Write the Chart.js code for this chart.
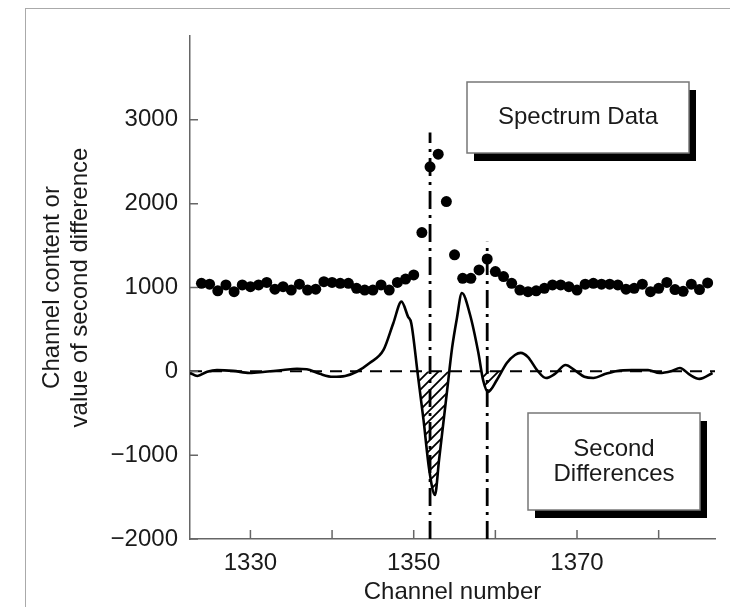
<!DOCTYPE html>
<html lang="en">
<head>
<meta charset="UTF-8">
<title>Spectrum data and second differences</title>
<script src="https://cdn.jsdelivr.net/npm/chart.js"></script>
<style>
  body { margin: 0; background: #fff; }
  #wrap { position: relative; width: 730px; height: 607px; }
  #frame { position: absolute; left: 25px; top: 8px; right: 0; bottom: 0;
           border-left: 1px solid #aaa; border-top: 1px solid #aaa; pointer-events: none; }
</style>
</head>
<body>
<div id="wrap">
  <canvas id="peakChart" width="730" height="607"></canvas>
  <div id="frame"></div>
</div>
<script>
// spectrum data, one count per channel
const channels = [1324, 1325, 1326, 1327, 1328, 1329, 1330, 1331, 1332, 1333, 1334, 1335, 1336, 1337,
  1338, 1339, 1340, 1341, 1342, 1343, 1344, 1345, 1346, 1347, 1348, 1349, 1350, 1351, 1352, 1353,
  1354, 1355, 1356, 1357, 1358, 1359, 1360, 1361, 1362, 1363, 1364, 1365, 1366, 1367, 1368, 1369,
  1370, 1371, 1372, 1373, 1374, 1375, 1376, 1377, 1378, 1379, 1380, 1381, 1382, 1383, 1384, 1385, 1386];
const counts = [1050, 1040, 960, 1030, 950, 1030, 1010, 1030, 1060, 980, 1010, 970, 1040, 970,
  980, 1070, 1060, 1050, 1050, 990, 970, 970, 1030, 970, 1060, 1100, 1150, 1655, 2440, 2590,
  2025, 1390, 1110, 1110, 1210, 1340, 1190, 1130, 1050, 970, 950, 960, 990, 1030, 1030, 1010,
  970, 1040, 1050, 1040, 1040, 1030, 980, 990, 1040, 950, 990, 1060, 975, 955, 1040, 975, 1055];

// second differences
const diffChannels = [1322.6, 1323.5, 1324.7, 1325.9, 1327.9, 1329.9, 1331.8, 1334.0, 1335.7, 1336.9,
  1338.5, 1340.1, 1341.6, 1343.0, 1344.6, 1346.3, 1347.5, 1348.5, 1349.3, 1349.7, 1350.5, 1351.2,
  1351.9, 1352.6, 1353.1, 1354.1, 1354.7, 1355.3, 1355.9, 1356.9, 1357.9, 1358.5, 1359.1, 1360.2,
  1361.4, 1362.4, 1363.1, 1364.0, 1365.1, 1366.2, 1367.3, 1368.6, 1369.7, 1370.9, 1372.0, 1373.5,
  1374.9, 1376.7, 1378.7, 1380.1, 1381.6, 1382.6, 1383.8, 1385.0, 1386.6];
const diffValues = [-20, -55, -5, 15, 5, -20, -5, 15, 30, 25,
  -30, -65, -55, -5, 100, 255, 574, 832, 653, 574, -40, -580,
  -1175, -1475, -1060, -220, 280, 640, 935, 675, 230, -105, -245, -100,
  100, 195, 220, 170, 15, -80, -30, 75, 15, -65, -80, -30,
  5, 15, 15, -20, 5, 40, -40, -90, -20];

// hatched negative lobes (channel ranges)
const hatchRanges = [[1349.7, 1354.7], [1357.9, 1361.4]];

// dash-dot markers at the peak channels
const markerChannels = [1352, 1359];
const markerTops = [2850, 1545];

const xMin = 1322.6, xMax = 1386.9;
const yMin = -2000, yMax = 4000;
const xTicks = [1330, 1340, 1350, 1360, 1370, 1380];
const xTickLabels = [1330, 1350, 1370];
const yTicks = [-2000, -1000, 0, 1000, 2000, 3000];

Chart.defaults.font.family = '"Liberation Sans", Arial, Helvetica, sans-serif';
Chart.defaults.font.size = 24;
Chart.defaults.color = '#1a1a1a';

// diagonal hatch pattern
const pc = document.createElement('canvas');
pc.width = 10; pc.height = 10;
const pctx = pc.getContext('2d');
pctx.strokeStyle = '#000';
pctx.lineWidth = 1.8;
pctx.beginPath();
pctx.moveTo(-2, 12); pctx.lineTo(12, -2);
pctx.moveTo(-2, 2); pctx.lineTo(2, -2);
pctx.moveTo(8, 12); pctx.lineTo(12, 8);
pctx.stroke();
const hatch = pctx.createPattern(pc, 'repeat');

const diffPoints = diffChannels.map((c, i) => ({ x: c, y: diffValues[i] }));

const datasets = [
  {
    label: 'Spectrum Data',
    data: channels.map((c, i) => ({ x: c, y: counts[i] })),
    showLine: false,
    pointRadius: 5.5,
    pointBackgroundColor: '#000',
    pointBorderWidth: 0
  },
  {
    label: 'Second Differences',
    data: diffPoints,
    showLine: true,
    borderColor: '#000',
    borderWidth: 2.6,
    pointRadius: 0,
    cubicInterpolationMode: 'monotone',
    fill: false
  }
];

markerChannels.forEach((c, i) => {
  datasets.push({
    data: [{ x: c, y: yMin }, { x: c, y: markerTops[i] }],
    showLine: true,
    borderColor: '#000',
    borderWidth: 2.8,
    borderDash: [18, 6, 3, 6],
    pointRadius: 0,
    fill: false
  });
});

datasets.push({
  data: [{ x: xMin, y: 0 }, { x: xMax, y: 0 }],
  showLine: true,
  borderColor: '#000',
  borderWidth: 2,
  borderDash: [12, 8],
  pointRadius: 0,
  fill: false
});

hatchRanges.forEach(r => {
  datasets.push({
    data: diffPoints.filter(p => p.x >= r[0] && p.x <= r[1]),
    showLine: true,
    borderWidth: 0,
    borderColor: 'rgba(0,0,0,0)',
    pointRadius: 0,
    cubicInterpolationMode: 'monotone',
    fill: { target: { value: 0 }, above: 'rgba(0,0,0,0)', below: hatch }
  });
});

// tick marks pointing into the plot
const innerTicks = {
  id: 'innerTicks',
  afterDraw(chart) {
    const { ctx, chartArea: a, scales: { x, y } } = chart;
    ctx.save();
    ctx.strokeStyle = '#666';
    ctx.lineWidth = 1.5;
    ctx.beginPath();
    xTicks.forEach(v => {
      const px = x.getPixelForValue(v);
      ctx.moveTo(px, a.bottom); ctx.lineTo(px, a.bottom - 9);
    });
    yTicks.forEach(v => {
      const py = y.getPixelForValue(v);
      ctx.moveTo(a.left, py); ctx.lineTo(a.left + 8, py);
    });
    ctx.stroke();
    ctx.restore();
  }
};

// the two shadowed label boxes
const labelBoxes = {
  id: 'labelBoxes',
  afterDraw(chart, args, opts) {
    const ctx = chart.ctx;
    ctx.save();
    opts.boxes.forEach(b => {
      ctx.fillStyle = '#000';
      ctx.fillRect(b.x + 7, b.y + 8, b.w, b.h);
      ctx.fillStyle = '#fff';
      ctx.fillRect(b.x, b.y, b.w, b.h);
      ctx.strokeStyle = '#777';
      ctx.lineWidth = 1.5;
      ctx.strokeRect(b.x, b.y, b.w, b.h);
      ctx.fillStyle = '#1a1a1a';
      ctx.font = '24px "Liberation Sans", Arial, sans-serif';
      ctx.textAlign = 'center';
      ctx.textBaseline = 'middle';
      const lh = 25;
      const y0 = b.y + b.h / 2 - (b.lines.length - 1) * lh / 2;
      b.lines.forEach((t, i) => ctx.fillText(t, b.x + b.w / 2, y0 + i * lh));
    });
    ctx.restore();
  }
};

new Chart(document.getElementById('peakChart'), {
  type: 'scatter',
  data: { datasets },
  options: {
    responsive: false,
    animation: false,
    layout: { padding: { left: 0, top: 36, right: 15, bottom: 0 } },
    plugins: {
      legend: { display: false },
      tooltip: { enabled: false },
      labelBoxes: {
        boxes: [
          { x: 467, y: 82, w: 222, h: 71, lines: ['Spectrum Data'] },
          { x: 528, y: 413, w: 172, h: 97, lines: ['Second', 'Differences'] }
        ]
      }
    },
    scales: {
      x: {
        type: 'linear',
        min: xMin,
        max: xMax,
        afterBuildTicks: s => { s.ticks = xTicks.map(v => ({ value: v })); },
        afterFit: s => { s.height = 68; },
        ticks: {
          autoSkip: false,
          maxRotation: 0,
          padding: 10,
          callback: v => xTickLabels.includes(v) ? String(v) : ''
        },
        grid: { drawOnChartArea: false, drawTicks: false },
        border: { color: '#666', width: 1.5 },
        title: { display: true, text: 'Channel number', padding: { top: 0, bottom: 0 } }
      },
      y: {
        min: yMin,
        max: yMax,
        afterBuildTicks: s => { s.ticks = yTicks.map(v => ({ value: v })); },
        afterFit: s => { s.width = 190; },
        ticks: {
          padding: 12,
          callback: v => v < 0 ? '\u2212' + Math.abs(v) : String(v)
        },
        grid: { drawOnChartArea: false, drawTicks: false },
        border: { color: '#666', width: 1.5 },
        title: {
          display: true,
          text: ['Channel content or', 'value of second difference'],
          font: { size: 24, lineHeight: 1.17 },
          padding: { top: 38, bottom: 0 }
        }
      }
    }
  },
  plugins: [innerTicks, labelBoxes]
});
</script>
</body>
</html>
